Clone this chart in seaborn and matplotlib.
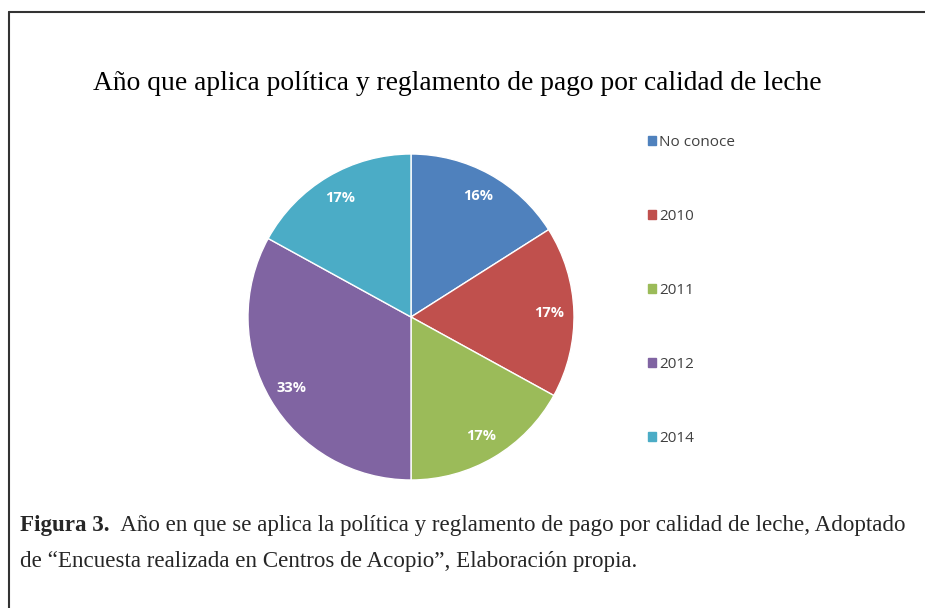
import matplotlib
matplotlib.use("Agg")
import matplotlib.pyplot as plt
import seaborn as sns
from matplotlib.patches import Patch
from matplotlib.lines import Line2D

# Data
categories = ["No conoce", "2010", "2011", "2012", "2014"]
shares = [16, 17, 17, 33, 17]
colors = ["#4F81BD", "#C0504D", "#9BBB59", "#8064A2", "#4BACC6"]

title = "Año que aplica política y reglamento de pago por calidad de leche"
caption_bold = "Figura 3."
caption_1 = "  Año en que se aplica la política y reglamento de pago por calidad de leche, Adoptado"
caption_2 = "de \u201cEncuesta realizada en Centros de Acopio\u201d, Elaboración propia."

sns.set_theme(style="white")
palette = sns.color_palette(colors)

fig = plt.figure(figsize=(9.25, 6.08), dpi=100)
fig.patch.set_facecolor("white")

# pie axes: centre ~ (411, 317) px, radius ~ 162 px
r = 163
cx, cy = 411, 317
ax = fig.add_axes([(cx - r) / 925, 1 - (cy + r) / 608, 2 * r / 925, 2 * r / 608])
wedges, _, autotexts = ax.pie(
    shares,
    colors=palette,
    startangle=90,
    counterclock=False,
    autopct="%.0f%%",
    pctdistance=0.85,
    wedgeprops=dict(edgecolor="white", linewidth=1.0),
    textprops=dict(color="white", fontsize=10.5, fontweight="bold", family="Open Sans"),
)
ax.set_aspect("equal")
ax.set_xlim(-1, 1)
ax.set_ylim(-1, 1)
ax.axis("off")

handles = [Patch(facecolor=c, edgecolor=c) for c in palette]
fig.legend(
    handles, categories,
    loc="upper left", bbox_to_anchor=(634 / 925, 1 - 121 / 608),
    frameon=False, handlelength=0.55, handleheight=0.55, handletextpad=0.2,
    labelspacing=3.87,
    prop=dict(family="Open Sans", size=11),
    labelcolor="#404040",
)

fig.text(93 / 925, 1 - 83 / 608, title, family="Liberation Serif", fontsize=19.8,
         va="center", ha="left", color="black")

cap_size = 16.55
t1 = fig.text(20 / 925, 1 - 525 / 608, caption_bold, family="Liberation Serif",
              fontsize=cap_size, fontweight="bold", va="center", ha="left")
fig.canvas.draw()
bb = t1.get_window_extent()
fig.text(bb.x1 / 925, 1 - 525 / 608, caption_1, family="Liberation Serif",
         fontsize=cap_size, va="center", ha="left")
fig.text(20 / 925, 1 - 562 / 608, caption_2, family="Liberation Serif",
         fontsize=cap_size, va="center", ha="left")

# frame: top and left edges only
fig.add_artist(Line2D([9 / 925, 1], [1 - 12 / 608, 1 - 12 / 608], color="#333333", lw=1.5))
fig.add_artist(Line2D([9 / 925, 9 / 925], [1 - 12 / 608, 0], color="#333333", lw=1.5))

fig.savefig("out.png", dpi=100)
